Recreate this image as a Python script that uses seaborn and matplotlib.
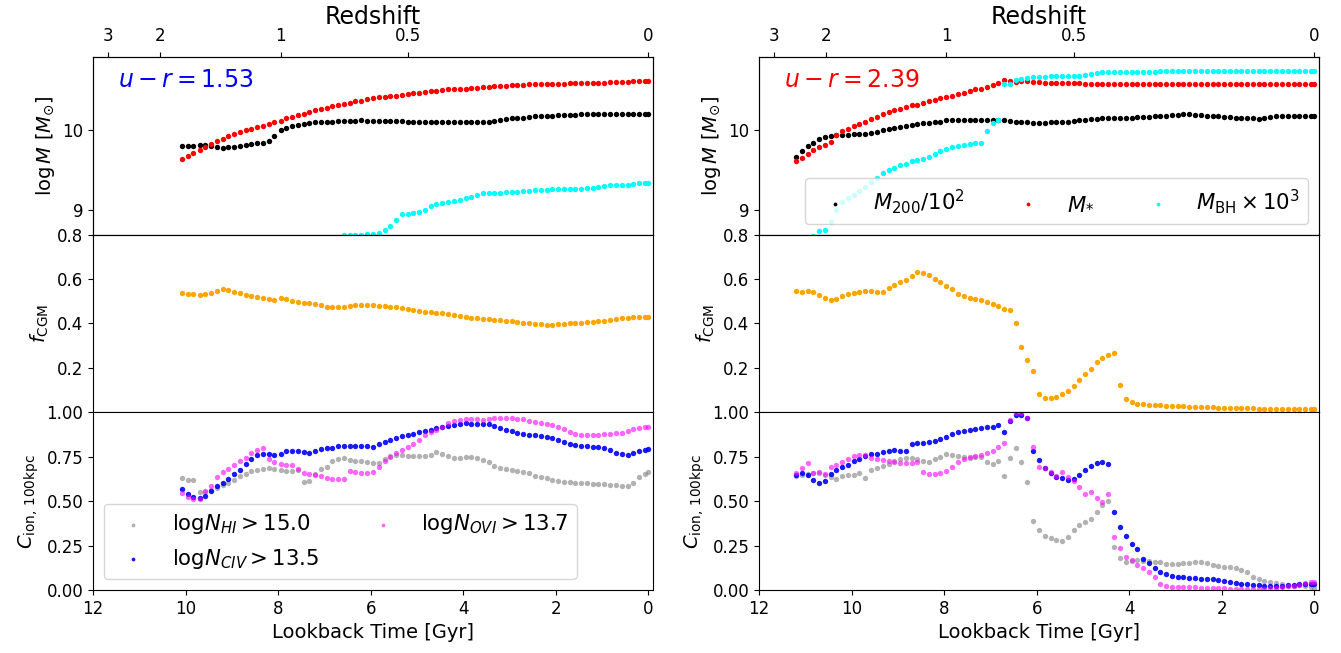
import matplotlib
matplotlib.use("Agg")
import matplotlib.pyplot as plt
import seaborn as sns

# lookback time of the simulation snapshots [Gyr]
SNAP_TIME = [
    11.20, 11.08, 10.95, 10.83, 10.70, 10.58, 10.45, 10.33, 10.20, 10.08,
    9.95, 9.83, 9.70, 9.58, 9.45, 9.33, 9.20, 9.08, 8.95, 8.83,
    8.70, 8.58, 8.45, 8.33, 8.20, 8.08, 7.95, 7.83, 7.70, 7.58,
    7.45, 7.33, 7.20, 7.08, 6.95, 6.83, 6.70, 6.58, 6.45, 6.33,
    6.20, 6.08, 5.95, 5.83, 5.70, 5.58, 5.45, 5.33, 5.20, 5.08,
    4.95, 4.83, 4.70, 4.58, 4.45, 4.33, 4.20, 4.08, 3.95, 3.83,
    3.70, 3.58, 3.45, 3.33, 3.20, 3.08, 2.95, 2.83, 2.70, 2.58,
    2.45, 2.33, 2.20, 2.08, 1.95, 1.83, 1.70, 1.58, 1.45, 1.33,
    1.20, 1.08, 0.95, 0.83, 0.70, 0.58, 0.45, 0.33, 0.20, 0.08,
    0.00]

# redshift axis on top
REDSHIFT_LABELS = ['3', '2', '1', '0.5', '0']
REDSHIFT_LOOKBACK = [11.68, 10.55, 7.95, 5.20, 0.0]

# ---- galaxy 1 (blue, u-r = 1.53); every series ends at the last snapshot ----
G1_UR = 1.53
G1_M200 = [
    9.80,
    9.80, 9.80, 9.81, 9.81, 9.80, 9.78, 9.77, 9.78, 9.79, 9.80,
    9.81, 9.82, 9.83, 9.84, 9.86, 9.92, 9.99, 10.02, 10.04, 10.06,
    10.07, 10.08, 10.09, 10.09, 10.10, 10.10, 10.11, 10.11, 10.11, 10.11,
    10.12, 10.11, 10.11, 10.11, 10.11, 10.11, 10.11, 10.11, 10.10, 10.10,
    10.10, 10.09, 10.09, 10.09, 10.09, 10.09, 10.09, 10.09, 10.09, 10.09,
    10.09, 10.10, 10.10, 10.11, 10.12, 10.13, 10.14, 10.15, 10.15, 10.16,
    10.17, 10.17, 10.17, 10.17, 10.18, 10.18, 10.18, 10.18, 10.19, 10.19,
    10.19, 10.19, 10.20, 10.19, 10.19, 10.19, 10.19, 10.19, 10.19, 10.19,
    10.19]
G1_MSTAR = [
    9.64,
    9.67, 9.71, 9.75, 9.78, 9.82, 9.86, 9.89, 9.92, 9.95, 9.97,
    9.99, 10.01, 10.03, 10.05, 10.07, 10.09, 10.11, 10.14, 10.16, 10.18,
    10.20, 10.22, 10.24, 10.25, 10.27, 10.29, 10.30, 10.32, 10.33, 10.35,
    10.36, 10.38, 10.39, 10.40, 10.41, 10.42, 10.42, 10.43, 10.44, 10.45,
    10.46, 10.47, 10.48, 10.48, 10.49, 10.50, 10.50, 10.51, 10.51, 10.52,
    10.52, 10.53, 10.53, 10.54, 10.54, 10.54, 10.55, 10.55, 10.55, 10.56,
    10.56, 10.56, 10.57, 10.57, 10.57, 10.57, 10.58, 10.58, 10.58, 10.58,
    10.58, 10.58, 10.58, 10.59, 10.59, 10.59, 10.59, 10.60, 10.60, 10.60,
    10.60]
G1_MBH = [
    8.66, 8.69, 8.70, 8.70,
    8.70, 8.71, 8.71, 8.72, 8.76, 8.81, 8.88, 8.95, 8.96, 8.97,
    8.98, 9.00, 9.05, 9.08, 9.09, 9.10, 9.12, 9.13, 9.15, 9.17,
    9.19, 9.22, 9.22, 9.22, 9.22, 9.23, 9.23, 9.23, 9.24, 9.24,
    9.25, 9.25, 9.25, 9.26, 9.26, 9.26, 9.27, 9.27, 9.27, 9.28,
    9.28, 9.29, 9.30, 9.31, 9.31, 9.32, 9.32, 9.33, 9.34, 9.34,
    9.34]
G1_FCGM = [
    0.537,
    0.535, 0.533, 0.528, 0.533, 0.538, 0.545, 0.555, 0.549, 0.543, 0.537,
    0.530, 0.522, 0.518, 0.515, 0.511, 0.508, 0.515, 0.510, 0.501, 0.498,
    0.494, 0.491, 0.488, 0.485, 0.476, 0.474, 0.474, 0.476, 0.480, 0.483,
    0.484, 0.484, 0.483, 0.480, 0.477, 0.476, 0.473, 0.469, 0.465, 0.461,
    0.458, 0.454, 0.452, 0.449, 0.446, 0.443, 0.439, 0.435, 0.431, 0.427,
    0.423, 0.421, 0.419, 0.417, 0.415, 0.412, 0.409, 0.406, 0.403, 0.400,
    0.398, 0.396, 0.395, 0.395, 0.396, 0.398, 0.400, 0.401, 0.403, 0.405,
    0.407, 0.410, 0.413, 0.416, 0.420, 0.425, 0.427, 0.429, 0.430, 0.431,
    0.431]
G1_HI = [
    0.630,
    0.620, 0.620, 0.550, 0.550, 0.565, 0.575, 0.590, 0.605, 0.620, 0.640,
    0.655, 0.670, 0.678, 0.682, 0.684, 0.680, 0.675, 0.672, 0.670, 0.675,
    0.610, 0.615, 0.655, 0.680, 0.695, 0.725, 0.740, 0.742, 0.732, 0.728,
    0.725, 0.718, 0.713, 0.713, 0.740, 0.752, 0.760, 0.758, 0.756, 0.756,
    0.756, 0.756, 0.762, 0.775, 0.765, 0.752, 0.742, 0.745, 0.750, 0.748,
    0.742, 0.733, 0.720, 0.700, 0.685, 0.680, 0.673, 0.668, 0.666, 0.660,
    0.642, 0.634, 0.628, 0.620, 0.615, 0.610, 0.606, 0.603, 0.600, 0.600,
    0.598, 0.597, 0.595, 0.592, 0.590, 0.586, 0.586, 0.600, 0.635, 0.655,
    0.662]
G1_CIV = [
    0.567,
    0.540, 0.525, 0.516, 0.530, 0.555, 0.583, 0.600, 0.625, 0.652, 0.675,
    0.708, 0.735, 0.762, 0.768, 0.763, 0.760, 0.763, 0.785, 0.785, 0.780,
    0.777, 0.773, 0.785, 0.795, 0.798, 0.802, 0.810, 0.812, 0.810, 0.810,
    0.812, 0.810, 0.807, 0.820, 0.833, 0.845, 0.857, 0.865, 0.872, 0.880,
    0.887, 0.893, 0.900, 0.910, 0.920, 0.925, 0.930, 0.935, 0.938, 0.936,
    0.934, 0.933, 0.932, 0.922, 0.912, 0.902, 0.893, 0.884, 0.878, 0.874,
    0.871, 0.866, 0.860, 0.853, 0.842, 0.831, 0.822, 0.815, 0.812, 0.808,
    0.806, 0.803, 0.800, 0.790, 0.773, 0.765, 0.760, 0.772, 0.782, 0.790,
    0.792]
G1_OVI = [
    0.545,
    0.525, 0.512, 0.510, 0.555, 0.585, 0.635, 0.665, 0.680, 0.704, 0.725,
    0.745, 0.770, 0.790, 0.800, 0.740, 0.722, 0.710, 0.705, 0.704, 0.680,
    0.660, 0.652, 0.647, 0.640, 0.630, 0.627, 0.625, 0.625, 0.668, 0.662,
    0.657, 0.657, 0.665, 0.695, 0.725, 0.750, 0.770, 0.790, 0.805, 0.820,
    0.845, 0.875, 0.890, 0.900, 0.920, 0.938, 0.953, 0.958, 0.962, 0.962,
    0.960, 0.957, 0.962, 0.968, 0.970, 0.970, 0.970, 0.965, 0.960, 0.953,
    0.945, 0.938, 0.933, 0.928, 0.920, 0.905, 0.892, 0.880, 0.870, 0.870,
    0.872, 0.875, 0.877, 0.880, 0.882, 0.885, 0.893, 0.905, 0.913, 0.917,
    0.919]

# ---- galaxy 2 (red, u-r = 2.39) ----
G2_UR = 2.39
G2_M200 = [
    9.66, 9.74, 9.80, 9.84, 9.88, 9.91, 9.92, 9.93, 9.93, 9.94,
    9.95, 9.95, 9.95, 9.96, 9.97, 9.99, 10.01, 10.02, 10.03, 10.05,
    10.06, 10.07, 10.08, 10.08, 10.09, 10.10, 10.12, 10.12, 10.12, 10.12,
    10.12, 10.12, 10.12, 10.12, 10.12, 10.12, 10.12, 10.11, 10.10, 10.09,
    10.09, 10.08, 10.08, 10.08, 10.09, 10.09, 10.10, 10.10, 10.11, 10.12,
    10.12, 10.13, 10.13, 10.14, 10.14, 10.14, 10.15, 10.15, 10.15, 10.16,
    10.16, 10.16, 10.17, 10.17, 10.17, 10.18, 10.18, 10.19, 10.19, 10.18,
    10.18, 10.17, 10.17, 10.17, 10.16, 10.16, 10.15, 10.15, 10.14, 10.14,
    10.13, 10.14, 10.16, 10.17, 10.17, 10.17, 10.17, 10.17, 10.17, 10.17,
    10.17]
G2_MSTAR = [
    9.61, 9.65, 9.70, 9.75, 9.78, 9.81, 9.85, 9.93, 9.98, 10.01,
    10.04, 10.07, 10.10, 10.13, 10.16, 10.19, 10.22, 10.24, 10.26, 10.28,
    10.30, 10.31, 10.33, 10.35, 10.37, 10.39, 10.40, 10.42, 10.44, 10.46,
    10.48, 10.50, 10.51, 10.53, 10.55, 10.58, 10.61, 10.60, 10.59, 10.60,
    10.60, 10.59, 10.59, 10.58, 10.58, 10.58, 10.58, 10.58, 10.58, 10.58,
    10.57, 10.57, 10.57, 10.57, 10.57, 10.57, 10.57, 10.57, 10.57, 10.57,
    10.57, 10.56, 10.56, 10.56, 10.56, 10.56, 10.56, 10.56, 10.56, 10.56,
    10.56, 10.56, 10.56, 10.56, 10.56, 10.56, 10.56, 10.56, 10.56, 10.56,
    10.56, 10.56, 10.56, 10.56, 10.56, 10.56, 10.56, 10.56, 10.56, 10.56,
    10.56]
G2_MBH = [
    8.68, 8.75, 8.76, 8.86, 9.00, 9.11, 9.15,
    9.19, 9.24, 9.29, 9.35, 9.40, 9.46, 9.50, 9.53, 9.56, 9.58,
    9.61, 9.62, 9.64, 9.66, 9.70, 9.73, 9.76, 9.78, 9.80, 9.81,
    9.82, 9.83, 9.84, 9.98, 10.08, 10.12, 10.56, 10.57, 10.61, 10.63,
    10.64, 10.65, 10.65, 10.65, 10.66, 10.66, 10.66, 10.67, 10.67, 10.67,
    10.68, 10.69, 10.70, 10.71, 10.71, 10.71, 10.72, 10.72, 10.72, 10.72,
    10.72, 10.72, 10.72, 10.73, 10.73, 10.73, 10.73, 10.73, 10.73, 10.73,
    10.73, 10.73, 10.73, 10.73, 10.73, 10.73, 10.73, 10.73, 10.73, 10.73,
    10.73, 10.73, 10.73, 10.73, 10.73, 10.73, 10.73, 10.73, 10.73, 10.73,
    10.73]
G2_FCGM = [
    0.545, 0.540, 0.548, 0.540, 0.528, 0.513, 0.507, 0.512, 0.525, 0.535,
    0.538, 0.543, 0.548, 0.545, 0.542, 0.543, 0.560, 0.573, 0.585, 0.595,
    0.612, 0.632, 0.627, 0.617, 0.600, 0.585, 0.570, 0.555, 0.535, 0.522,
    0.515, 0.510, 0.505, 0.498, 0.488, 0.478, 0.465, 0.462, 0.404, 0.292,
    0.237, 0.186, 0.084, 0.064, 0.063, 0.070, 0.083, 0.098, 0.120, 0.145,
    0.172, 0.197, 0.225, 0.243, 0.257, 0.267, 0.124, 0.060, 0.045, 0.038,
    0.036, 0.034, 0.033, 0.032, 0.030, 0.029, 0.028, 0.027, 0.026, 0.025,
    0.023, 0.022, 0.022, 0.021, 0.021, 0.020, 0.020, 0.019, 0.019, 0.018,
    0.017, 0.016, 0.016, 0.015, 0.015, 0.015, 0.015, 0.015, 0.015, 0.015,
    0.015]
G2_HI = [
    0.644, 0.647, 0.655, 0.660, 0.656, 0.648, 0.637, 0.625, 0.640, 0.645,
    0.648, 0.657, 0.632, 0.675, 0.687, 0.698, 0.710, 0.728, 0.738, 0.745,
    0.741, 0.735, 0.728, 0.722, 0.735, 0.748, 0.768, 0.762, 0.755, 0.748,
    0.745, 0.748, 0.750, 0.720, 0.710, 0.726, 0.642, 0.745, 0.797, 0.722,
    0.610, 0.388, 0.338, 0.306, 0.290, 0.280, 0.276, 0.300, 0.340, 0.365,
    0.380, 0.400, 0.440, 0.480, 0.501, 0.244, 0.182, 0.159, 0.165, 0.168,
    0.165, 0.163, 0.158, 0.155, 0.148, 0.144, 0.148, 0.151, 0.153, 0.155,
    0.156, 0.150, 0.140, 0.135, 0.132, 0.128, 0.123, 0.115, 0.102, 0.075,
    0.060, 0.050, 0.045, 0.040, 0.035, 0.022, 0.022, 0.028, 0.022, 0.018,
    0.013]
G2_CIV = [
    0.647, 0.657, 0.647, 0.619, 0.600, 0.612, 0.652, 0.675, 0.692, 0.705,
    0.725, 0.740, 0.752, 0.764, 0.764, 0.775, 0.782, 0.786, 0.785, 0.782,
    0.822, 0.826, 0.826, 0.832, 0.840, 0.850, 0.863, 0.878, 0.891, 0.897,
    0.900, 0.908, 0.914, 0.916, 0.920, 0.930, 0.891, 0.951, 0.985, 0.985,
    0.966, 0.782, 0.732, 0.689, 0.660, 0.635, 0.629, 0.620, 0.625, 0.645,
    0.675, 0.698, 0.712, 0.718, 0.707, 0.437, 0.357, 0.304, 0.257, 0.231,
    0.174, 0.150, 0.122, 0.103, 0.088, 0.080, 0.075, 0.072, 0.069, 0.065,
    0.062, 0.061, 0.060, 0.056, 0.053, 0.045, 0.038, 0.036, 0.034, 0.030,
    0.027, 0.024, 0.023, 0.023, 0.025, 0.028, 0.030, 0.032, 0.034, 0.034,
    0.032]
G2_OVI = [
    0.657, 0.685, 0.713, 0.657, 0.662, 0.651, 0.690, 0.704, 0.722, 0.738,
    0.752, 0.762, 0.760, 0.745, 0.738, 0.732, 0.725, 0.719, 0.715, 0.713,
    0.716, 0.719, 0.665, 0.655, 0.653, 0.660, 0.668, 0.695, 0.720, 0.735,
    0.747, 0.755, 0.762, 0.772, 0.782, 0.805, 0.830, 0.957, 0.994, 0.994,
    0.966, 0.807, 0.694, 0.685, 0.662, 0.642, 0.666, 0.638, 0.613, 0.582,
    0.538, 0.550, 0.516, 0.497, 0.538, 0.300, 0.234, 0.188, 0.169, 0.141,
    0.122, 0.103, 0.075, 0.032, 0.022, 0.019, 0.019, 0.019, 0.017, 0.015,
    0.013, 0.012, 0.011, 0.010, 0.010, 0.008, 0.007, 0.006, 0.006, 0.006,
    0.006, 0.008, 0.010, 0.013, 0.015, 0.020, 0.023, 0.030, 0.038, 0.043,
    0.047]

MASS_LABELS = [r'$M_{200}/10^2$', r'$M_{*}$', r'$M_{\rm BH}\times10^3$']
MASS_COLORS = ['black', 'red', 'cyan']
ION_LABELS = [r'log$N_{HI}>15.0$', r'log$N_{CIV}>13.5$', r'log$N_{OVI}>13.7$']
ION_COLORS = ['grey', 'blue', 'magenta']
ION_ALPHA = [0.6, 0.9, 0.6]

DOT = 15


def dots(ax, vals, color, label=None, alpha=1.0):
    # each series ends at the final snapshot
    sns.scatterplot(x=SNAP_TIME[-len(vals):], y=vals, color=color, s=DOT,
                    linewidth=0, alpha=alpha, label=label, legend=False, ax=ax)


def galaxy_column(fig, left, right, ur, ur_color, masses, fcgm, ions,
                  mass_legend, ion_legend):
    gs = fig.add_gridspec(3, 1, left=left, right=right, top=0.9127,
                          bottom=0.0965, hspace=0)
    ax_m = fig.add_subplot(gs[0])
    ax_f = fig.add_subplot(gs[1], sharex=ax_m)
    ax_c = fig.add_subplot(gs[2], sharex=ax_m)

    for vals, c, lab in zip(masses, MASS_COLORS, MASS_LABELS):
        dots(ax_m, vals, c, lab)
    dots(ax_f, fcgm, 'orange')
    for vals, c, lab, a in zip(ions, ION_COLORS, ION_LABELS, ION_ALPHA):
        dots(ax_c, vals, c, lab, a)

    ax_c.set_xlim(12, -0.1)
    ax_c.set_xticks([0, 2, 4, 6, 8, 10, 12])
    ax_m.set_ylim(8.7, 10.9)
    ax_m.set_yticks([9, 10])
    ax_f.set_ylim(0, 0.8)
    ax_f.set_yticks([0.2, 0.4, 0.6, 0.8])
    ax_c.set_ylim(0, 1.0)
    ax_c.set_yticks([0, 0.25, 0.5, 0.75, 1.0])

    for ax in (ax_m, ax_f):
        ax.tick_params(axis='x', bottom=False, labelbottom=False)
    for ax in (ax_m, ax_f, ax_c):
        ax.tick_params(labelsize=12)

    ax_m.set_ylabel(r'$\log M\ [M_{\odot}]$', fontsize=14)
    ax_f.set_ylabel(r'$f_{\rm CGM}$', fontsize=14)
    ax_c.set_ylabel(r'$C_{\rm ion,\,100kpc}$', fontsize=14)
    ax_c.set_xlabel('Lookback Time [Gyr]', fontsize=14)

    ax_m.text(0.045, 0.87, r'$u-r=%.2f$' % ur, transform=ax_m.transAxes,
              color=ur_color, fontsize=17, va='center', ha='left')

    top = ax_m.twiny()
    top.set_xlim(ax_c.get_xlim())
    top.set_xticks(REDSHIFT_LOOKBACK)
    top.set_xticklabels(REDSHIFT_LABELS)
    top.tick_params(labelsize=12, pad=5)
    top.set_xlabel('Redshift', fontsize=17, labelpad=2)

    if mass_legend:
        ax_m.legend(loc='lower right', ncol=3, fontsize=15.3, markerscale=0.7)
    if ion_legend:
        ax_c.legend(loc='lower left', ncol=2, fontsize=15.3, markerscale=0.7)


fig = plt.figure(figsize=(13.41, 6.53), dpi=100)

galaxy_column(fig, 0.0694, 0.4870, G1_UR, 'blue',
              [G1_M200, G1_MSTAR, G1_MBH], G1_FCGM, [G1_HI, G1_CIV, G1_OVI],
              mass_legend=False, ion_legend=True)
galaxy_column(fig, 0.5660, 0.9836, G2_UR, 'red',
              [G2_M200, G2_MSTAR, G2_MBH], G2_FCGM, [G2_HI, G2_CIV, G2_OVI],
              mass_legend=True, ion_legend=False)

fig.savefig('out.png', dpi=100)
